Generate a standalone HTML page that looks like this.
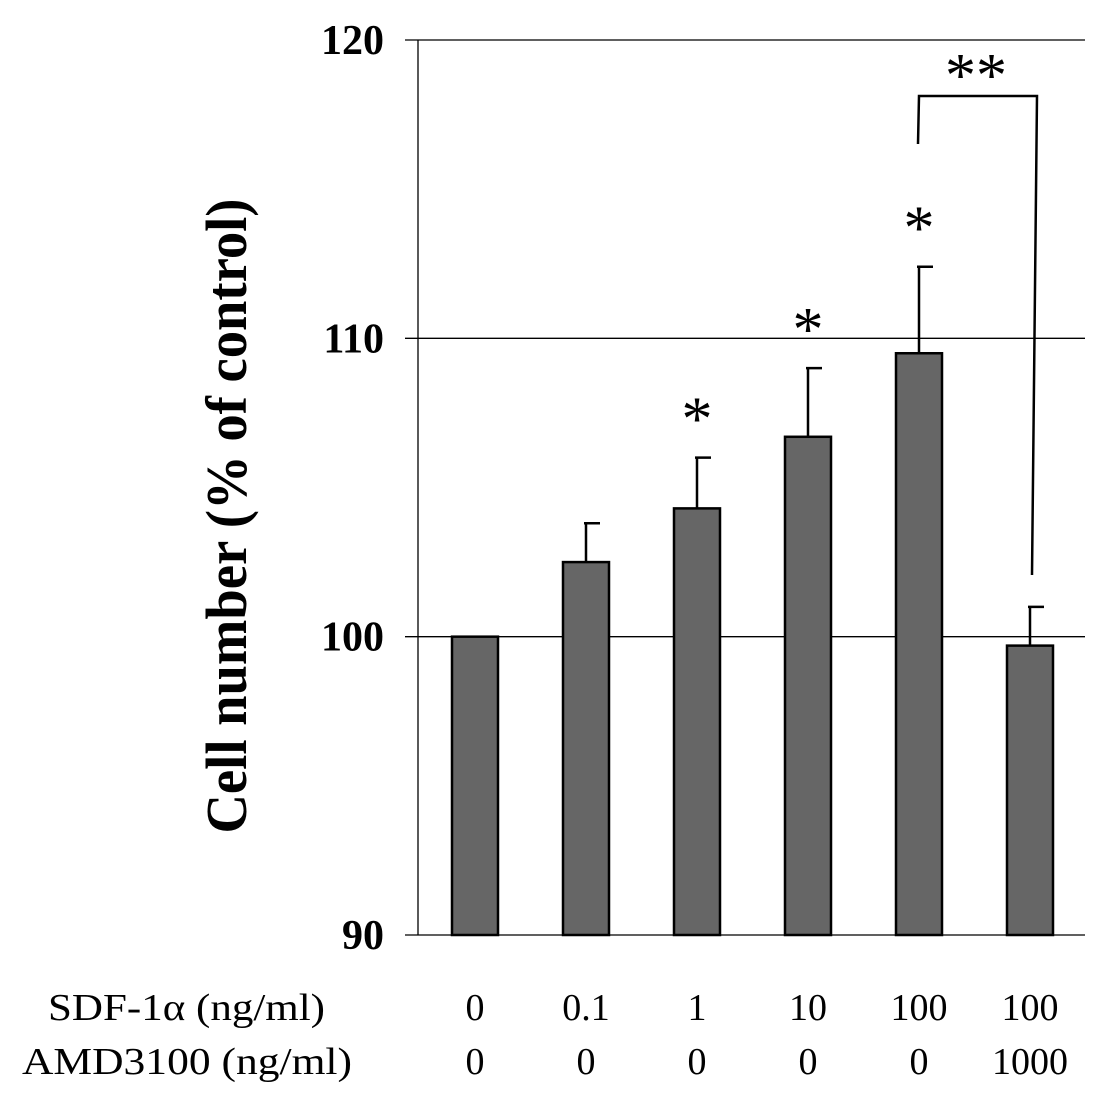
<!DOCTYPE html>
<html><head><meta charset="utf-8"><style>
body{margin:0;background:#fff;}
svg{display:block;font-family:"Liberation Serif",serif;}
</style></head><body>
<svg width="1110" height="1110" viewBox="0 0 1110 1110">
<g id="grid"></g><g id="bars"></g><g id="labels"></g>
<text transform="translate(246,516) rotate(-90)" text-anchor="middle" font-size="58" font-weight="bold" textLength="635" lengthAdjust="spacingAndGlyphs">Cell number (% of control)</text>
<g stroke="#000" stroke-width="2.5" fill="none">
<polyline points="918,144 919,96 1037,96 1032,575"/>
</g>
<text x="976" y="96" text-anchor="middle" font-size="62">**</text>
</svg>
<script>
const categories=["0","0.1","1","10","100","100"];
const amd=["0","0","0","0","0","1000"];
const values=[100,102.5,104.3,106.7,109.5,99.7];
const errTops=[null,103.8,106.0,109.0,112.4,101.0];
const stars=[false,false,true,true,true,false];
const yTicks=[90,100,110,120];
const NS="http://www.w3.org/2000/svg";
const x0=418,x1=1085,yTop=40,yBot=935,ymin=90,ymax=120;
const y=v=>yBot-(v-ymin)/(ymax-ymin)*(yBot-yTop);
const xc=i=>475+i*111;
function mk(tag,attrs,parent,txt){const e=document.createElementNS(NS,tag);for(const k in attrs)e.setAttribute(k,attrs[k]);if(txt!=null)e.textContent=txt;document.getElementById(parent).appendChild(e);return e;}
yTicks.forEach(t=>{
 const l=mk('line',{x1:x0-13,x2:x1,y1:y(t),y2:y(t),stroke:'#000','stroke-width':1.3},'grid');
 
 
 const tx=mk('text',{x:384,y:y(t)+14,'text-anchor':'end','font-size':42,'font-weight':'bold'},'grid',t);
 
 
});
const ax=mk('line',{x1:x0,x2:x0,y1:yTop,y2:yBot,stroke:'#000','stroke-width':1.3},'grid');


values.forEach((v,i)=>{
 const c=xc(i);
 if(errTops[i]!=null){
  const e=mk('path',{d:`M${c},${y(v)} V${y(errTops[i])} M${c-2},${y(errTops[i])} H${c+14}`,stroke:'#000','stroke-width':2.5,fill:'none'},'bars');
  
  
 }
 const r=mk('rect',{x:c-23,y:y(v),width:46,height:yBot-y(v),fill:'#666',stroke:'#000','stroke-width':2.5},'bars');
 
 
 if(stars[i]){
  const s=mk('text',{x:c,y:y(errTops[i])-18,'text-anchor':'middle','font-size':62},'bars','*');
  
  
 }
 const a=mk('text',{x:c,y:1020,'text-anchor':'middle','font-size':38},'labels',categories[i]);
 
 
 const b=mk('text',{x:c,y:1074,'text-anchor':'middle','font-size':38},'labels',amd[i]);
 
 
});
const r1=mk('text',{x:48,y:1020,'font-size':38,textLength:277,lengthAdjust:'spacingAndGlyphs'},'labels','SDF-1α (ng/ml)');


const r2=mk('text',{x:22,y:1074,'font-size':38,textLength:330,lengthAdjust:'spacingAndGlyphs'},'labels','AMD3100 (ng/ml)');


</script>
</body></html>
